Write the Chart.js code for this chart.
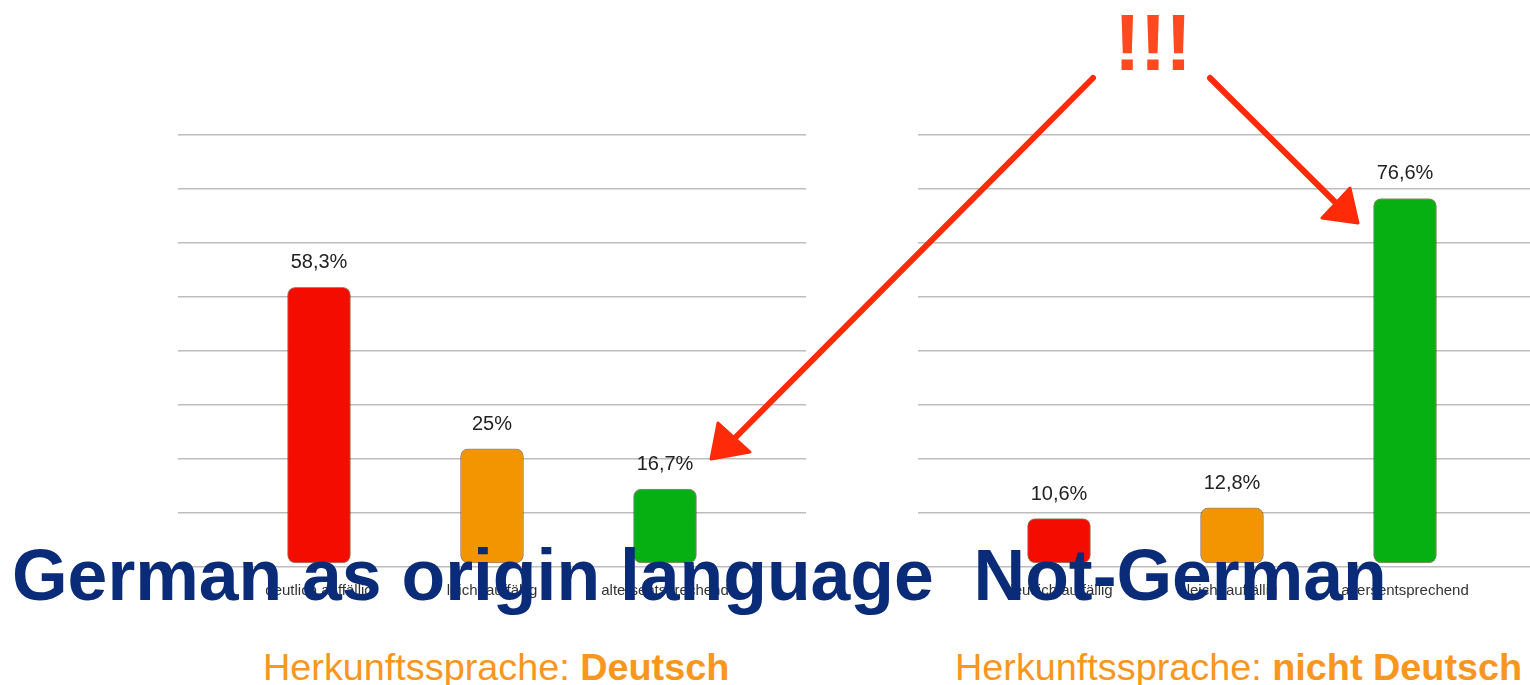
<!DOCTYPE html>
<html>
<head>
<meta charset="utf-8">
<script src="https://cdn.jsdelivr.net/npm/chart.js@4.4.1/dist/chart.umd.min.js"></script>
<style>
  html, body { margin:0; padding:0; background:#fff; width:1530px; height:685px; overflow:hidden; position:relative; font-family:"Liberation Sans", Arial, sans-serif; }
  .box { position:absolute; }
  #wrapL { left:178px; top:115px; width:628px; height:492px; }
  #wrapR { left:918px; top:115px; width:628px; height:492px; }
  #title { position:absolute; left:12px; top:540px; font-size:71.5px; font-weight:bold; color:#0a2b78; line-height:1; white-space:pre; z-index:5; }
  .sub { position:absolute; top:649px; font-size:37.8px; color:#f8961e; line-height:1; white-space:pre; }
  .sub b { font-weight:bold; }
  #bang { position:absolute; left:1114px; top:3px; font-size:80px; font-weight:bold; color:#ff4a1f; line-height:1; letter-spacing:-1px; z-index:4; }
  svg { position:absolute; left:0; top:0; z-index:4; }
</style>
</head>
<body>
<div id="wrapL" class="box"><canvas id="cL" width="628" height="492"></canvas></div>
<div id="wrapR" class="box"><canvas id="cR" width="628" height="492"></canvas></div>

<svg width="1530" height="685" viewBox="0 0 1530 685">
  <g stroke="#ff2a08" stroke-width="6" stroke-linecap="round" fill="#ff2a08">
    <line x1="1093" y1="78" x2="728" y2="445"/>
    <polygon points="718,423 750,452 711,459" stroke-width="3" stroke-linejoin="round"/>
    <line x1="1210" y1="78" x2="1340" y2="207"/>
    <polygon points="1350,188 1358,223 1322,218" stroke-width="3" stroke-linejoin="round"/>
  </g>
</svg>
<div id="bang">!!!</div>

<div id="title">German as origin language  Not-German</div>
<div class="sub" style="left:263px">Herkunftssprache: <b>Deutsch</b></div>
<div class="sub" style="left:955px">Herkunftssprache: <b>nicht Deutsch</b></div>

<script>
// ---- data ----
const categories = ["deutlich auffällig", "leicht auffällig", "altersentsprechend"];
const valuesDeutsch = [58.3, 25, 16.7];
const valuesNichtDeutsch = [10.6, 12.8, 76.6];
const barColors = ["#f50c00", "#f29500", "#06b012"];
const gridCount = 9;

function fmt(v) { return String(v).replace('.', ',') + '%'; }

const valueLabels = {
  id: 'valueLabels',
  afterDatasetsDraw(chart) {
    const ctx = chart.ctx;
    const meta = chart.getDatasetMeta(0);
    const ds = chart.data.datasets[0];
    ctx.save();
    ctx.font = '20px "Liberation Sans", Arial, sans-serif';
    ctx.fillStyle = '#222';
    ctx.textAlign = 'center';
    ctx.textBaseline = 'alphabetic';
    meta.data.forEach((bar, i) => {
      ctx.fillText(fmt(ds.data[i].y), bar.x, bar.y - 19);
    });
    ctx.restore();
  }
};

function makeChart(id, values) {
  const yMin = 0.62, yMax = 89.69;
  return new Chart(document.getElementById(id), {
    type: 'bar',
    data: {
      datasets: [{
        data: values.map((v, i) => ({ x: i + 1, y: v })),
        backgroundColor: barColors,
        borderColor: 'rgba(70,40,10,0.55)',
        borderWidth: 1,
        borderRadius: 8,
        borderSkipped: false,
        barThickness: 63,
        base: 1.44
      }]
    },
    options: {
      responsive: false,
      animation: false,
      devicePixelRatio: 1,
      layout: { padding: { top: 20, left: 0, right: 0, bottom: 0 } },
      plugins: { legend: { display: false }, tooltip: { enabled: false } },
      scales: {
        x: {
          type: 'linear',
          offset: false,
          min: 0.185, max: 3.815,
          afterBuildTicks(scale) { scale.ticks = categories.map((c, i) => ({ value: i + 1 })); },
          afterFit(scale) { scale.height = 40; },
          grid: { display: false, drawTicks: false, offset: false },
          border: { display: false },
          ticks: {
            padding: 15,
            autoSkip: false,
            maxRotation: 0,
            color: '#333',
            font: { size: 15, family: '"Liberation Sans", Arial, sans-serif' },
            callback: (v) => categories[Math.round(v) - 1] || ''
          }
        },
        y: {
          min: yMin, max: yMax,
          afterBuildTicks(scale) {
            const t = [];
            for (let k = 0; k < gridCount; k++) t.push({ value: yMin + (yMax - yMin) * k / (gridCount - 1) });
            scale.ticks = t;
          },
          afterFit(scale) { scale.width = 0; },
          grid: { color: '#bdbdbd', lineWidth: 1.5, drawTicks: false },
          border: { display: false },
          ticks: { display: false }
        }
      }
    },
    plugins: [valueLabels]
  });
}

makeChart('cL', valuesDeutsch);
makeChart('cR', valuesNichtDeutsch);
</script>
</body>
</html>
